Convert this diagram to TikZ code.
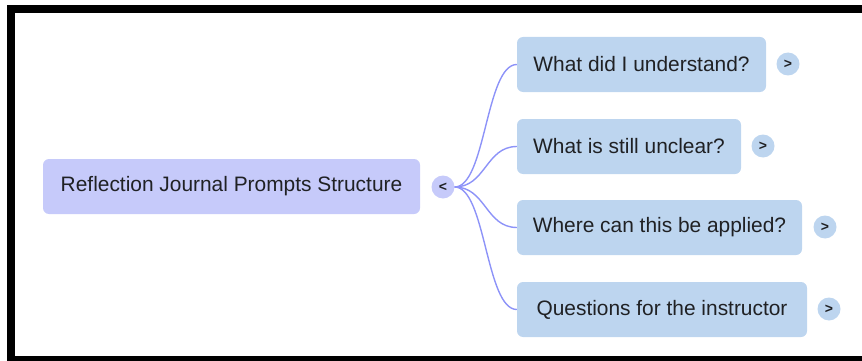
\documentclass[tikz,border=0pt]{standalone}
\usepackage{fontspec}
\setmainfont{Liberation Sans}
\begin{document}
\begin{tikzpicture}[x=1pt,y=-1pt,
  rootbox/.style={fill=rootfill, rounded corners=6pt, minimum height=55pt, inner sep=0pt, text=txt, font=\fontsize{20.9}{24}\selectfont},
  childbox/.style={fill=childfill, rounded corners=6pt, minimum height=55pt, inner sep=0pt, text=txt, font=\fontsize{20.9}{24}\selectfont},
  toggle/.style={circle, minimum size=23pt, inner sep=0pt, text=txt, font=\fontsize{14}{14}\selectfont\bfseries},
  link/.style={draw=linkc, line width=1.4pt}
]
\definecolor{rootfill}{HTML}{C6CAFA}
\definecolor{childfill}{HTML}{BDD5EF}
\definecolor{linkc}{HTML}{8D93F8}
\definecolor{txt}{HTML}{202124}
\useasboundingbox (0,0) rectangle (862,361);
% frame
\fill[black] (7,5) rectangle (862,13);
\fill[black] (7,5) rectangle (15,361);
\fill[black] (7,356) rectangle (862,361);

\node[rootbox, minimum width=377pt] (root) at (231.5,186.5) {Reflection Journal Prompts Structure};
\node[toggle, fill=rootfill] (rt) at (443,187) {<};

\node[childbox, minimum width=249pt] (c1) at (641.5,64.5) {What did I understand?};
\node[childbox, minimum width=224pt] (c2) at (629,146.5) {What is still unclear?};
\node[childbox, minimum width=285pt] (c3) at (659.5,227.5) {Where can this be applied?};
\node[childbox, minimum width=290pt] (c4) at (662,309.5) {Questions for the instructor};

\node[toggle, fill=childfill] (t1) at (788,64) {>};
\node[toggle, fill=childfill] (t2) at (763,146) {>};
\node[toggle, fill=childfill] (t3) at (825,227) {>};
\node[toggle, fill=childfill] (t4) at (829,309) {>};

\foreach \c in {c1,c2,c3,c4}{
  \draw[link] (rt.east) .. controls ([xshift=31pt]rt.east) and ([xshift=-31pt]\c.west) .. (\c.west);
}
\end{tikzpicture}
\end{document}
